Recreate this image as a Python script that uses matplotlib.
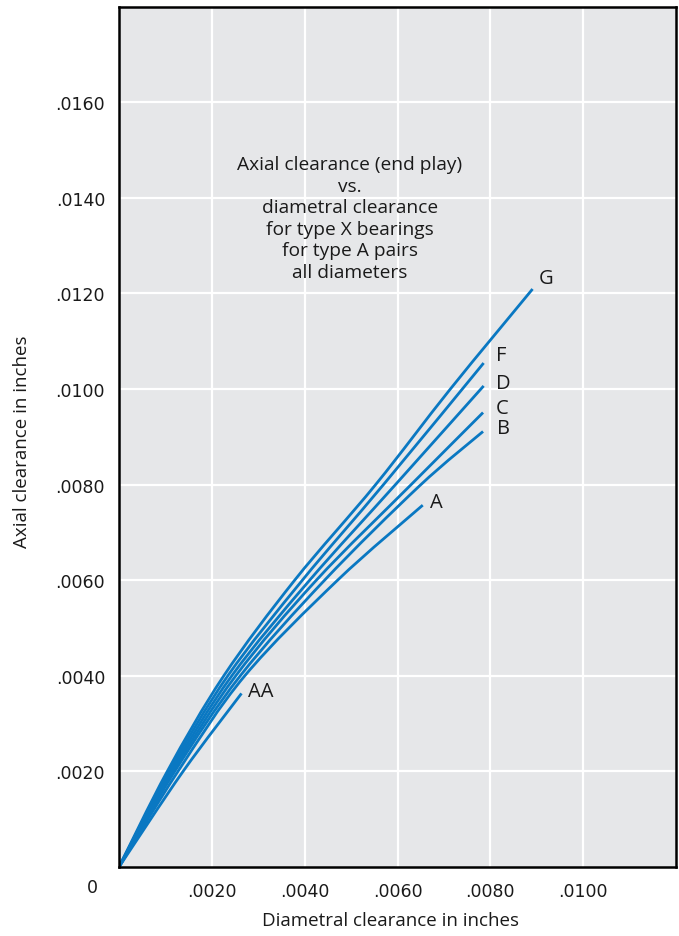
import matplotlib
matplotlib.use("Agg")
import matplotlib.pyplot as plt
from matplotlib.path import Path
from matplotlib.patches import PathPatch

plt.rcParams['font.family'] = ['Open Sans', 'DejaVu Sans']

# Curve data (diametral clearance, axial clearance), inches
curve_names = ["G", "F", "D", "C", "B", "A", "AA"]
G_x = [0, 0.00104, 0.002258, 0.003785, 0.00553, 0.00714, 0.00891]
G_y = [0, 0.002, 0.004, 0.006, 0.008, 0.010, 0.01209]
F_x = [0, 0.00108, 0.002344, 0.003951, 0.005699, 0.007856]
F_y = [0, 0.002, 0.004, 0.006, 0.008, 0.010542]
D_x = [0, 0.00112, 0.00243, 0.004108, 0.005957, 0.007856]
D_y = [0, 0.002, 0.004, 0.006, 0.008, 0.010063]
C_x = [0, 0.00116, 0.002516, 0.004252, 0.006295, 0.007843]
C_y = [0, 0.002, 0.004, 0.006, 0.008, 0.009506]
B_x = [0, 0.0012, 0.002613, 0.00443, 0.006473, 0.007843]
B_y = [0, 0.002, 0.004, 0.006, 0.007971, 0.00911]
A_x = [0, 0.00127, 0.00271, 0.00471, 0.006544]
A_y = [0, 0.002, 0.004, 0.006, 0.007569]
AA_x = [0, 0.00138, 0.002639]
AA_y = [0, 0.002, 0.003631]

x_ticks = [0.002, 0.004, 0.006, 0.008, 0.010]
x_tick_labels = [".0020", ".0040", ".0060", ".0080", ".0100"]
y_ticks = [0.002, 0.004, 0.006, 0.008, 0.010, 0.012, 0.014, 0.016]
y_tick_labels = [".0020", ".0040", ".0060", ".0080", ".0100", ".0120", ".0140", ".0160"]

title_text = ("Axial clearance (end play)\nvs.\ndiametral clearance\n"
              "for type X bearings\nfor type A pairs\nall diameters")

W, H = 679, 937
fig = plt.figure(figsize=(W / 100, H / 100), dpi=100)
left, right, top, bottom = 119, 676, 7.5, 868
ax = fig.add_axes([left / W, 1 - bottom / H, (right - left) / W, (bottom - top) / H])

ax.set_facecolor("#e6e7e9")
ax.set_xlim(0, 0.012)
ax.set_ylim(0, 0.018)
ax.set_xticks(x_ticks)
ax.set_xticklabels(x_tick_labels, fontfamily="DejaVu Sans")
ax.set_yticks(y_ticks)
ax.set_yticklabels(y_tick_labels, fontfamily="DejaVu Sans")
ax.tick_params(length=0, labelsize=12.5, colors="#1a1a1a")
ax.tick_params(axis="x", pad=11)
ax.tick_params(axis="y", pad=10)
ax.grid(True, color="white", linewidth=1.6)
ax.set_axisbelow(True)
for s in ax.spines.values():
    s.set_color("black")
    s.set_linewidth(1.8)


def smooth_path(xs, ys):
    """Catmull-Rom curve through the data points, as cubic Bezier segments."""
    pts = list(zip(xs, ys))
    n = len(pts)
    verts = [pts[0]]
    codes = [Path.MOVETO]
    for i in range(n - 1):
        p0 = pts[i - 1] if i > 0 else pts[i]
        p1 = pts[i]
        p2 = pts[i + 1]
        p3 = pts[i + 2] if i + 2 < n else pts[i + 1]
        c1 = (p1[0] + (p2[0] - p0[0]) / 6, p1[1] + (p2[1] - p0[1]) / 6)
        c2 = (p2[0] - (p3[0] - p1[0]) / 6, p2[1] - (p3[1] - p1[1]) / 6)
        verts += [c1, c2, p2]
        codes += [Path.CURVE4] * 3
    return Path(verts, codes)


line_color = "#0a78c2"
series = {"G": (G_x, G_y), "F": (F_x, F_y), "D": (D_x, D_y), "C": (C_x, C_y),
          "B": (B_x, B_y), "A": (A_x, A_y), "AA": (AA_x, AA_y)}
for name in curve_names:
    xs, ys = series[name]
    patch = PathPatch(smooth_path(xs, ys), facecolor="none", edgecolor=line_color,
                      linewidth=2.0, capstyle="butt", transform=ax.transData)
    ax.add_patch(patch)

label_offsets = {"G": (0.00013, 0.00023), "F": (0.00027, 0.00016), "D": (0.00026, 0.00006),
                 "C": (0.00028, 0.0001), "B": (0.0003, 0.00008), "A": (0.00015, 0.00007),
                 "AA": (0.00015, 0.00006)}
for name in curve_names:
    xs, ys = series[name]
    dx, dy = label_offsets[name]
    ax.text(xs[-1] + dx, ys[-1] + dy, name, fontsize=14.5, ha="left", va="center", color="#1a1a1a")

ax.text(0.00497, 0.01358, title_text, ha="center", va="center", fontsize=13.8,
        linespacing=1.25, color="#1a1a1a")

fig.text(391 / W, 1 - 921 / H, "Diametral clearance in inches", ha="center", va="center",
         fontsize=13.5, color="#1a1a1a")
fig.text(22 / W, 1 - 442 / H, "Axial clearance in inches", ha="center", va="center",
         rotation=90, fontsize=13.5, color="#1a1a1a")

fig.text(92 / W, 1 - 888 / H, "0", ha="center", va="center", fontsize=12.5,
         fontfamily="DejaVu Sans", color="#1a1a1a")

fig.savefig("out.png", dpi=100)
